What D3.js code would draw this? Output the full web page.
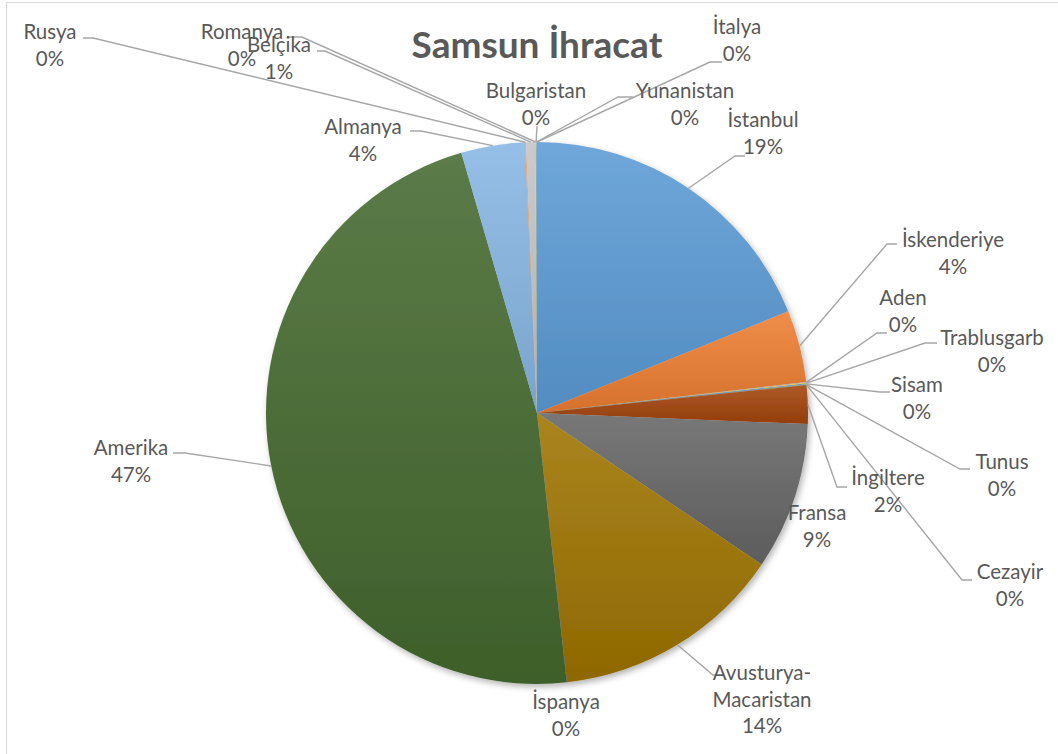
<!DOCTYPE html>
<html>
<head>
<meta charset="utf-8">
<script src="https://cdn.jsdelivr.net/npm/d3@7"></script>
<style>
  body { margin: 0; background: #fff; }
  svg { display: block; }
  .lbl { font-family: Lato, "Open Sans", sans-serif; font-size: 20.5px; fill: #595959; }
  .title { font-family: Lato, "Open Sans", sans-serif; font-weight: bold; font-size: 37px; fill: #595959; }
</style>
</head>
<body>
<div id="chart"></div>
<script>
// slices in drawing order, clockwise from 12 o'clock
const categories = ['İstanbul', 'İskenderiye', 'Aden', 'Trablusgarb', 'Sisam', 'Tunus', 'Cezayir',
  'İngiltere', 'Fransa', 'Avusturya-Macaristan', 'İspanya', 'Amerika', 'Almanya', 'Rusya',
  'Belçika', 'Romanya', 'Bulgaristan', 'Yunanistan', 'İtalya'];
const values = [18.9, 4.3, 0.05, 0.04, 0.05, 0.02, 0.02,
  2.3, 8.8, 13.8, 0.02, 47.3, 3.8, 0.06,
  0.55, 0.03, 0.03, 0.02, 0.02];
const palette = ['#5B9BD5', '#ED7D31', '#A5A5A5', '#FFC000', '#4472C4', '#70AD47', '#255E91',
  '#A3440C', '#666666', '#9E7400', '#264478', '#45692F', '#86B6E3', '#F1975A',
  '#C4C4C4', '#FFCD33', '#698ED0', '#8CC168', '#327DC2'];

// label placement: [name, centerX, firstLineY, attachX, attachY, elbowX]
const labelLayout = [
  ['İstanbul', 763, 120, 745, 156, 735],
  ['İskenderiye', 953, 240, 897, 244, 887],
  ['Aden', 903, 298, 887, 333, 877],
  ['Trablusgarb', 992, 338, 937, 343, 925],
  ['Sisam', 917, 385, 890, 392, 880],
  ['Tunus', 1002, 462, 970, 469, 960],
  ['Cezayir', 1010, 572, 972, 580, 962],
  ['İngiltere', 888, 478, 847, 487, 837],
  ['Fransa', 817, 513, null, null, null],
  ['Avusturya-Macaristan', 762, 673, 724, 675, 713],
  ['İspanya', 566, 702, null, null, null],
  ['Amerika', 131, 448, 173, 453, 185],
  ['Almanya', 363, 127, 410, 131, 421],
  ['Rusya', 50, 32, 83, 38, 93],
  ['Belçika', 279, 45, 317, 51, 325],
  ['Romanya', 242, 32, 287, 37, 302],
  ['Bulgaristan', 536, 91, 537, 126, 537],
  ['Yunanistan', 685, 91, 633, 97, 618],
  ['İtalya', 737, 27, 722, 62, 710]
];

const width = 1058, height = 754;
const cx = 537, cy = 413, radius = 271;
const lineH = 26.5;

const svg = d3.select('#chart').append('svg')
  .attr('width', width)
  .attr('height', height);

const defs = svg.append('defs');
const shadow = defs.append('filter').attr('id', 'shadow')
  .attr('x', '-10%').attr('y', '-10%').attr('width', '120%').attr('height', '120%');
shadow.append('feDropShadow')
  .attr('dx', 2).attr('dy', 3).attr('stdDeviation', 3)
  .attr('flood-color', '#000').attr('flood-opacity', 0.3);

// Excel-like soft gradient: a bit lighter at the top, a bit darker at the bottom
palette.forEach((c, i) => {
  const gr = defs.append('linearGradient').attr('id', 'grad' + i)
    .attr('x1', 0).attr('y1', 0).attr('x2', 0).attr('y2', 1);
  gr.append('stop').attr('offset', '0%').attr('stop-color', d3.interpolateRgb(c, '#ffffff')(0.12));
  gr.append('stop').attr('offset', '100%').attr('stop-color', d3.interpolateRgb(c, '#000000')(0.1));
});

// chart area border
svg.append('rect')
  .attr('x', 6.5).attr('y', 2.5)
  .attr('width', width).attr('height', height)
  .attr('fill', 'none').attr('stroke', '#D9D9D9').attr('stroke-width', 1);

svg.append('text')
  .attr('class', 'title')
  .attr('x', cx).attr('y', 58)
  .attr('text-anchor', 'middle')
  .text('Samsun İhracat');

const data = categories.map((name, i) => ({ name, value: values[i], idx: i }));

const pie = d3.pie().sort(null).value(d => d.value);
const arcs = pie(data);
const total = d3.sum(values);

const arc = d3.arc().innerRadius(0).outerRadius(radius);
const edge = d3.arc().innerRadius(radius).outerRadius(radius);

const g = svg.append('g').attr('transform', `translate(${cx},${cy})`);

g.append('g').attr('filter', 'url(#shadow)')
  .selectAll('path')
  .data(arcs)
  .enter().append('path')
  .attr('d', arc)
  .attr('fill', d => `url(#grad${d.data.idx})`);

// leader lines
const layoutBy = new Map(labelLayout.map(l => [l[0], l]));
const leaders = svg.append('g')
  .attr('fill', 'none').attr('stroke', '#A6A6A6').attr('stroke-width', 1.4);

arcs.forEach(d => {
  const l = layoutBy.get(d.data.name);
  if (!l || l[3] === null) return;
  const p = edge.centroid(d);
  const px = cx + p[0], py = cy + p[1];
  leaders.append('path')
    .attr('d', `M${px},${py}L${l[5]},${l[4]}L${l[3]},${l[4]}`);
});

// labels
const labels = svg.append('g').attr('class', 'lbl');
arcs.forEach(d => {
  const l = layoutBy.get(d.data.name);
  const pct = Math.round(d.data.value / total * 100) + '%';
  let lines = [d.data.name];
  if (d.data.name.includes('-')) {
    const parts = d.data.name.split('-');
    lines = [parts[0] + '-', parts[1]];
  }
  lines.push(pct);
  const t = labels.append('text')
    .attr('text-anchor', 'middle');
  lines.forEach((s, k) => {
    t.append('tspan')
      .attr('x', l[1])
      .attr('y', l[2] + k * lineH)
      .attr('dy', '0.35em')
      .text(s);
  });
});
</script>
</body>
</html>
